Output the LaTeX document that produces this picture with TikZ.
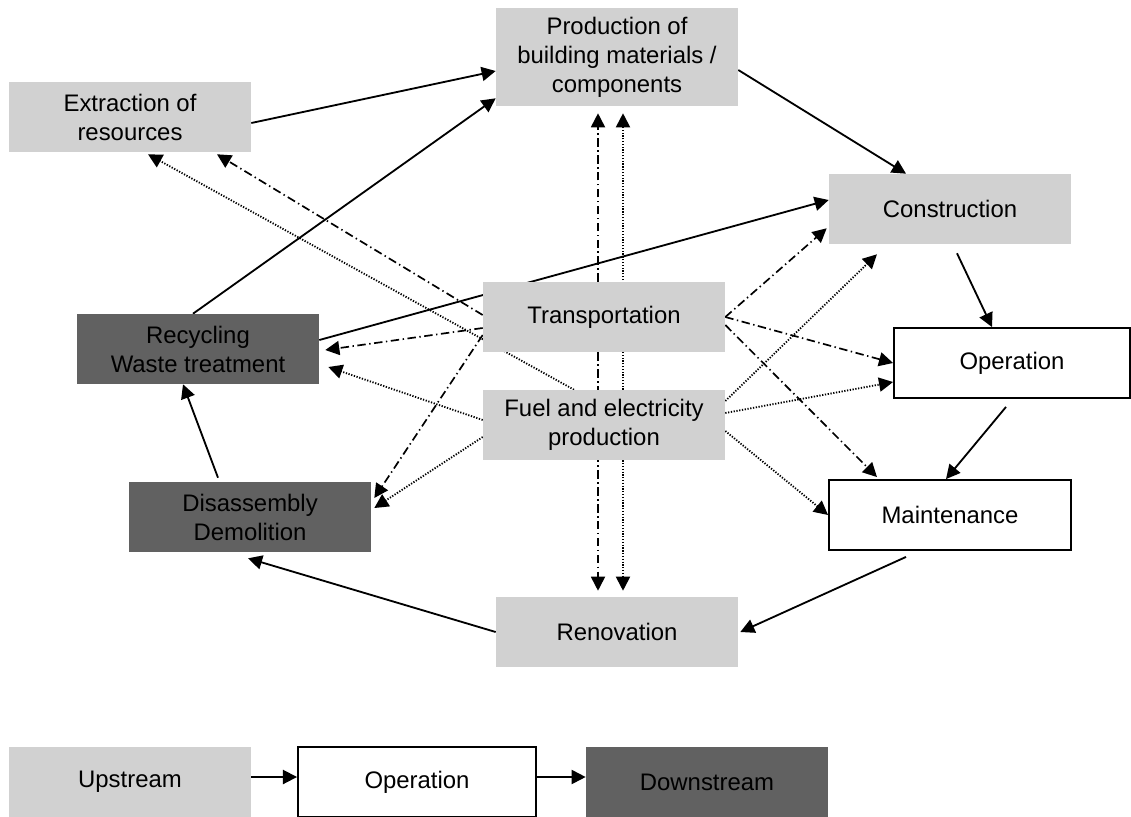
\documentclass[tikz,border=0pt]{standalone}
\usepackage{fontspec}
\setmainfont{Liberation Sans}
\usetikzlibrary{arrows.meta,calc,backgrounds}

\begin{document}
\begin{tikzpicture}[x=0.025cm,y=-0.025cm,
    font=\fontsize{17}{20.6}\selectfont,
    box/.style={minimum width=6.05cm,minimum height=1.75cm,inner sep=0pt,align=center},
    upbox/.style={box,fill=black!18},
    opbox/.style={box,draw=black,line width=1.3pt,fill=white},
    downbox/.style={box,fill=black!62},
    life/.style={line width=1.3pt,-{Triangle[length=10pt,width=10pt]}},
    transline/.style={line width=1.2pt,dash pattern=on 6pt off 2.5pt on 1pt off 2.5pt,-{Triangle[length=10pt,width=10pt]}},
    fuelline/.style={line width=1.3pt,dash pattern=on 0.9pt off 1.1pt,-{Triangle[length=10pt,width=10pt]}}]
            \useasboundingbox (0,0) rectangle (1131,816);

            % stages
            \node[upbox] (extr) at (130,117) {Extraction of\\resources};
            \node[upbox,minimum height=2.45cm] (prod) at (617,57) {Production of\\building materials /\\components};
            \node[upbox] (constr) at (950,209) {Construction};
            \node[upbox] (trans) at (604,317) {Transportation};
            \node[upbox] (fuel) at (604,425) {Fuel and electricity\\production};
            \node[opbox,minimum width=5.9cm] (oper) at (1012,363) {Operation};
            \node[opbox] (maint) at (950,515) {Maintenance};
            \node[downbox] (recyc) at (198,349) {Recycling\\Waste treatment};
            \node[downbox] (disas) at (250,517) {Disassembly\\Demolition};
            \node[upbox] (renov) at (617,632) {Renovation};

            % legend
            \node[upbox] (up) at (130,782) {Upstream};
            \node[opbox,minimum width=5.95cm] (legop) at (417,782) {Operation};
            \node[downbox] (down) at (707,782) {Downstream};

            \begin{scope}[on background layer]
            % life cycle
            \draw[life] ($(extr.east)+(0,6)$) -- ($(prod.west)+(0,14)$);
            \draw[life] ($(recyc.north)+(-5,0)$) -- ($(prod.south west)+(0,-8)$);
            \draw[life] ($(prod.east)+(0,13)$) -- ($(constr.north)+(-44,0)$);
            \draw[life] ($(recyc.east)+(0,-9)$) -- ($(constr.west)+(0,-9)$);
            \draw[life] ($(constr.south)+(7,9)$) -- ($(oper.north)+(-20,0)$);
            \draw[life] ($(oper.south)+(-6,8)$) -- ($(maint.north)+(-4,0)$);
            \draw[life] ($(maint.south)+(-44,6)$) -- ($(renov.east)+(2,0)$);
            \draw[life] (renov.west) -- ($(disas.south)+(-2,6)$);
            \draw[life] ($(disas.north)+(-32,-4)$) -- ($(recyc.south)+(-15,0)$);

            % transportation
            \draw[transline] ($(trans.north)+(-6,0)$) -- ($(prod.south)+(-19,7)$);
            \draw[transline] ($(trans.south)+(-6,0)$) -- ($(renov.north)+(-19,-6)$);
            \draw[transline] ($(trans.west)+(0,-2)$) -- ($(extr.south)+(87,2)$);
            \draw[transline] ($(trans.west)+(0,11)$) -- ($(recyc.east)+(6,1)$);
            \draw[transline] ($(trans.west)+(0,18)$) -- ($(disas.east)+(3,-19)$);
            \draw[transline] (trans.east) -- ($(constr.south west)+(-2,-16)$);
            \draw[transline] (trans.east) -- (oper.west);
            \draw[transline] ($(trans.east)+(0,8)$) -- ($(maint.north)+(-73,-2)$);

            % fuel and electricity
            \draw[fuelline] ($(fuel.north)+(19,0)$) -- ($(prod.south)+(6,7)$);
            \draw[fuelline] ($(fuel.south)+(19,0)$) -- ($(renov.north)+(6,-6)$);
            \draw[fuelline] ($(fuel.north)+(-30,0)$) -- ($(extr.south)+(18,2)$);
            \draw[fuelline] ($(fuel.west)+(0,-5)$) -- ($(recyc.east)+(9,18)$);
            \draw[fuelline] ($(fuel.west)+(0,12)$) -- ($(disas.east)+(3,-9)$);
            \draw[fuelline] ($(fuel.east)+(0,-24)$) -- ($(constr.south)+(-73,10)$);
            \draw[fuelline] ($(fuel.east)+(0,-12)$) -- ($(oper.west)+(0,19)$);
            \draw[fuelline] ($(fuel.east)+(0,6)$) -- (maint.west);

            % legend
            \draw[life] ($(up.east)+(0,-5)$) -- ($(legop.west)+(0,-5)$);
            \draw[life] ($(legop.east)+(0,-5)$) -- ($(down.west)+(0,-5)$);
            \end{scope}
        \end{tikzpicture}
\end{document}
